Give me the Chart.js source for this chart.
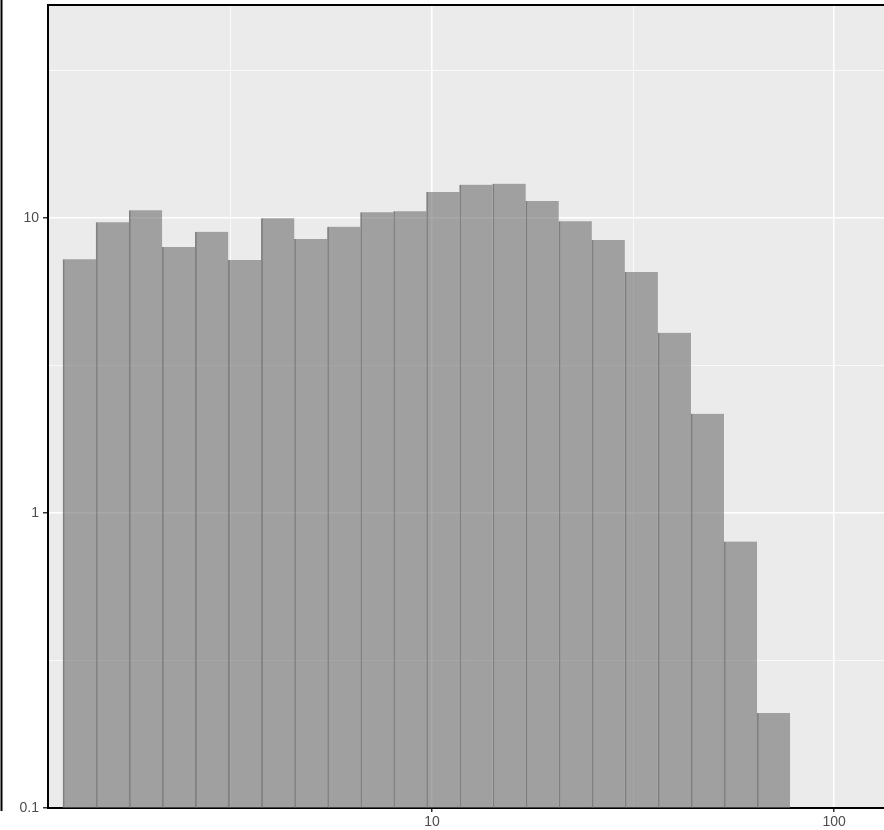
<!DOCTYPE html>
<html>
<head>
<meta charset="utf-8">
<script src="https://cdn.jsdelivr.net/npm/chart.js@4/dist/chart.umd.min.js"></script>
<style>
  html, body { margin: 0; padding: 0; background: #fff; }
  #wrap { width: 884px; height: 830px; position: relative; }
</style>
</head>
<body>
<div id="wrap"><canvas id="chart"></canvas></div>
<script>
// bin centres (log-spaced histogram bins) and bar heights
const binCenters = [1.328, 1.605, 1.940, 2.344, 2.833, 3.422, 4.136, 4.998, 6.039, 7.298, 8.817,
                    10.65, 12.87, 15.56, 18.80, 22.72, 27.45, 33.17, 40.09, 48.44, 58.54, 70.73];
const counts = [7.24, 9.67, 10.62, 7.97, 8.98, 7.20, 9.98, 8.49, 9.34, 10.45, 10.54,
                12.25, 12.97, 13.07, 11.42, 9.74, 8.42, 6.56, 4.08, 2.17, 0.80, 0.21];

// axis breaks: major (labelled) and minor (grid only)
const xTicks = [3.162, 10, 31.62, 100];
const xLabels = ['', '10', '', '100'];
const yTicks = [0.1, 0.3162, 1, 3.162, 10, 31.62];
const yLabels = ['0.1', '', '1', '', '10', ''];

const xRange = [1.109, 133.1];
const yRange = [0.1, 52.7];

function isMajor(labels, ticks, value) {
    const i = ticks.findIndex(t => Math.abs(t - value) / t < 1e-6);
    return i >= 0 && labels[i] !== '';
}

// panel background + frame lines that sit outside chart.js axes
const panelPlugin = {
    id: 'panel',
    beforeDraw(chart) {
        const {ctx, chartArea: a} = chart;
        ctx.save();
        ctx.fillStyle = '#EBEBEB';
        ctx.fillRect(a.left, a.top, a.right - a.left, a.bottom - a.top);
        ctx.restore();
    },
    afterDraw(chart) {
        const {ctx, chartArea: a} = chart;
        ctx.save();
        ctx.strokeStyle = '#000';
        ctx.lineWidth = 2;
        ctx.beginPath();
        ctx.moveTo(a.left - 1, a.top);
        ctx.lineTo(a.right, a.top);
        ctx.moveTo(1.5, 0);
        ctx.lineTo(1.5, 811);
        ctx.stroke();
        ctx.restore();
    }
};

const tickFont = { family: '"Liberation Sans", Arial, sans-serif', size: 14 };

new Chart(document.getElementById('chart'), {
    type: 'bar',
    data: {
        datasets: [{
            data: binCenters.map((c, i) => ({ x: c, y: counts[i] })),
            backgroundColor: 'rgba(110,110,110,0.6)',
            borderColor: 'rgba(100,100,100,0.75)',
            borderWidth: { left: 1, right: 0, top: 0, bottom: 0 },
            borderSkipped: false,
            barPercentage: 1,
            categoryPercentage: 1
        }]
    },
    plugins: [panelPlugin],
    options: {
        responsive: true,
        maintainAspectRatio: false,
        animation: false,
        layout: { padding: { top: 5, left: 0, right: 0, bottom: 0 } },
        plugins: { legend: { display: false }, tooltip: { enabled: false } },
        scales: {
            x: {
                type: 'logarithmic',
                min: xRange[0],
                max: xRange[1],
                offset: false,
                afterFit: s => { s.height = 22; s.paddingLeft = 0; s.paddingRight = 0; },
                afterBuildTicks: s => { s.ticks = xTicks.map(v => ({ value: v })); },
                border: { display: true, color: '#000', width: 2 },
                grid: {
                    offset: false,
                    color: '#FFFFFF',
                    lineWidth: c => isMajor(xLabels, xTicks, c.tick.value) ? 1.5 : 0.7,
                    tickColor: c => isMajor(xLabels, xTicks, c.tick.value) ? '#333333' : 'rgba(0,0,0,0)',
                    tickWidth: 1.5,
                    tickLength: 4
                },
                ticks: {
                    autoSkip: false,
                    maxRotation: 0,
                    padding: 2,
                    color: '#4D4D4D',
                    font: tickFont,
                    callback: (v, i) => xLabels[i]
                }
            },
            y: {
                type: 'logarithmic',
                min: yRange[0],
                max: yRange[1],
                afterFit: s => { s.width = 48; s.paddingTop = 0; s.paddingBottom = 0; },
                afterBuildTicks: s => { s.ticks = yTicks.map(v => ({ value: v })); },
                border: { display: true, color: '#000', width: 2 },
                grid: {
                    color: '#FFFFFF',
                    lineWidth: c => isMajor(yLabels, yTicks, c.tick.value) ? 1.5 : 0.7,
                    tickColor: c => isMajor(yLabels, yTicks, c.tick.value) ? '#333333' : 'rgba(0,0,0,0)',
                    tickWidth: 1.5,
                    tickLength: 5
                },
                ticks: {
                    autoSkip: false,
                    padding: 4,
                    color: '#4D4D4D',
                    font: tickFont,
                    callback: (v, i) => yLabels[i]
                }
            }
        }
    }
});
</script>
</body>
</html>
